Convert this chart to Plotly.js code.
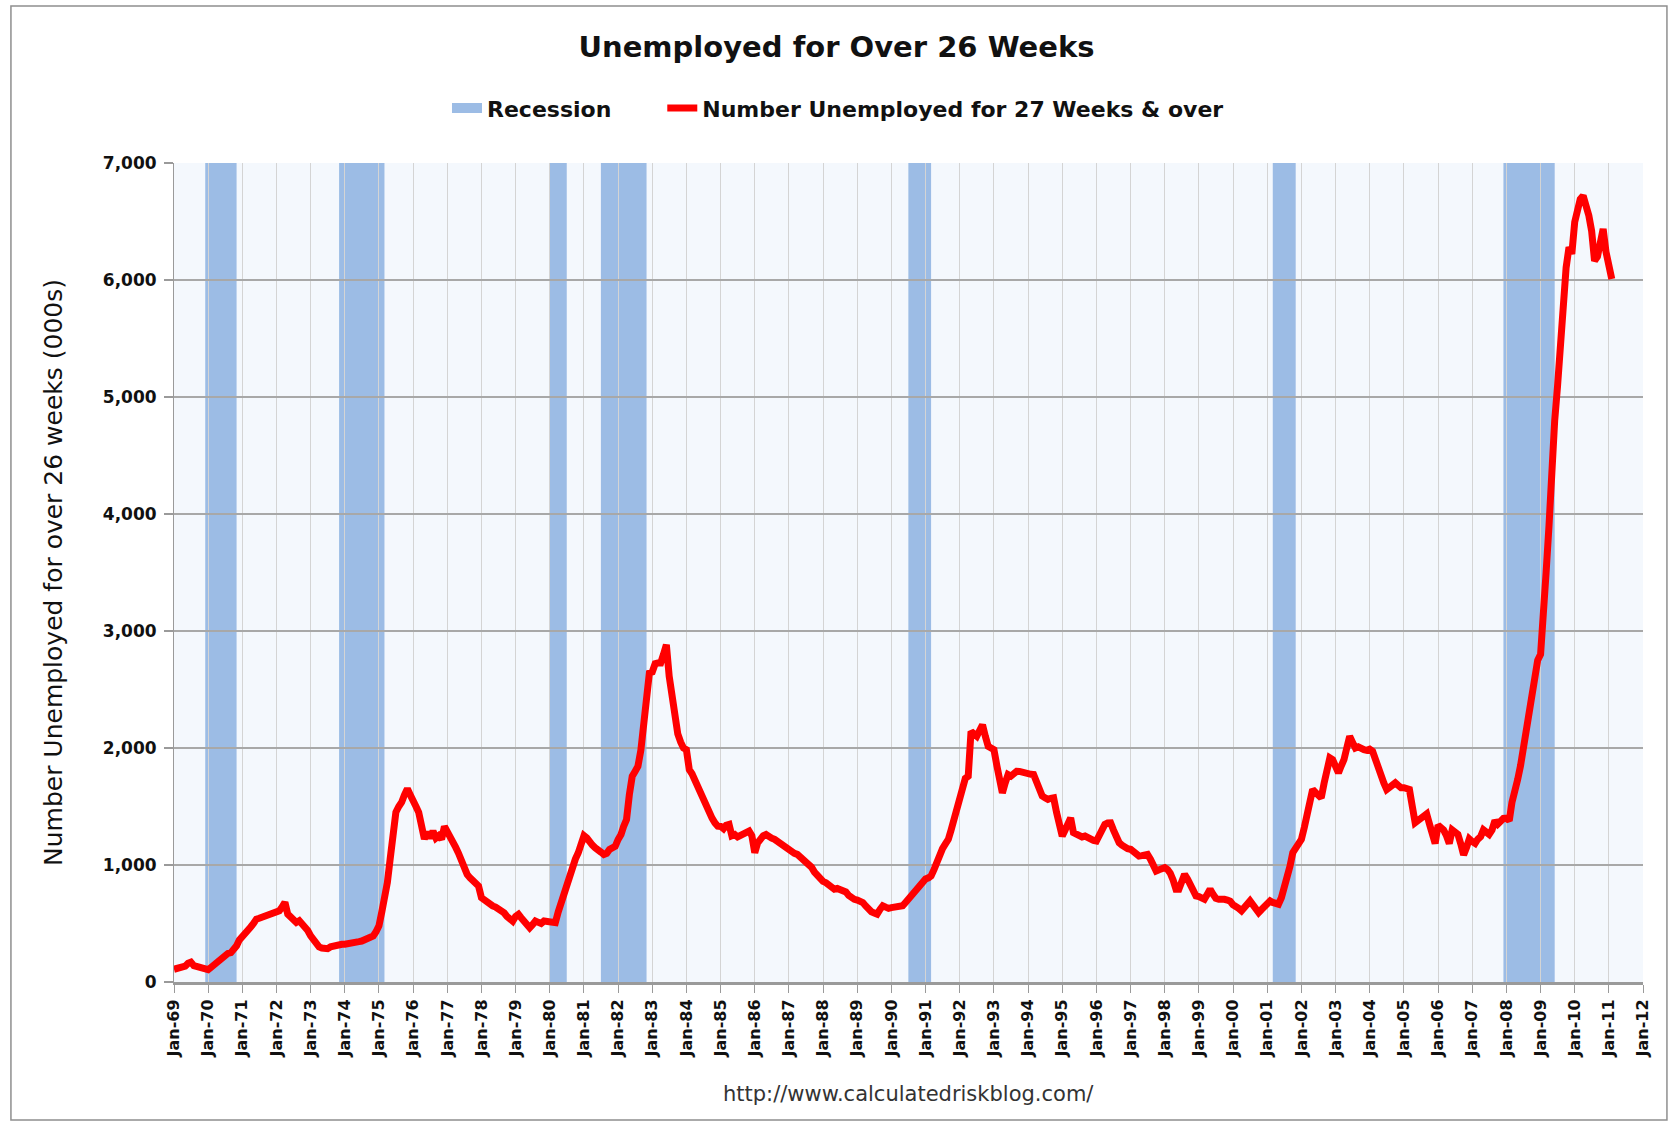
<!DOCTYPE html>
<html>
<head>
<meta charset="utf-8">
<script src="https://cdn.plot.ly/plotly-3.0.1.min.js"></script>
<style>
  html, body { margin:0; padding:0; background:#ffffff; }
  #chart { width:1673px; height:1125px; }
</style>
</head>
<body>
<div id="chart"></div>
<script>
// ---- Data -------------------------------------------------------------
const seriesStart = { year: 1969, month: 1 };   // first monthly observation (Jan-69)

// Number unemployed for 27 weeks & over (thousands), monthly, one row per year
const unemployed27wk = [
  /*1969*/ 109,115,125,120,135,160,170,140,135,130,125,115,
  /*1970*/ 105,125,145,165,190,220,237,245,251,275,309,360,
  /*1971*/ 394,420,437,470,500,537,545,555,566,570,575,580,
  /*1972*/ 590,609,640,680,580,560,530,509,523,500,480,440,
  /*1973*/ 394,360,323,300,290,280,285,300,309,315,320,322,
  /*1974*/ 323,325,330,337,340,345,350,358,366,375,394,430,
  /*1975*/ 480,600,709,850,1051,1250,1451,1500,1537,1600,1651,1600,
  /*1976*/ 1560,1500,1450,1330,1223,1280,1230,1290,1230,1250,1220,1330,
  /*1977*/ 1275,1250,1200,1150,1100,1040,960,920,890,870,850,820,
  /*1978*/ 720,700,680,665,650,640,625,610,590,560,530,520,
  /*1979*/ 560,578,550,521,500,464,490,521,510,500,521,515,
  /*1980*/ 510,500,507,600,677,780,848,920,990,1050,1104,1180,
  /*1981*/ 1250,1230,1190,1170,1147,1120,1110,1090,1100,1133,1140,1160,
  /*1982*/ 1218,1260,1330,1389,1600,1759,1800,1844,1980,2214,2400,2641,
  /*1983*/ 2650,2720,2726,2726,2800,2883,2613,2450,2250,2120,2050,2000,
  /*1984*/ 1986,1815,1780,1720,1680,1620,1560,1500,1446,1400,1360,1332,
  /*1985*/ 1330,1310,1340,1347,1250,1260,1240,1250,1260,1280,1290,1250,
  /*1986*/ 1105,1190,1230,1250,1261,1240,1230,1219,1200,1180,1162,1150,
  /*1987*/ 1140,1120,1100,1091,1070,1050,1030,1020,980,940,906,880,
  /*1988*/ 860,849,830,810,793,800,790,793,770,740,720,707,
  /*1989*/ 700,690,679,650,622,600,590,580,620,651,640,630,
  /*1990*/ 636,640,630,645,651,680,707,740,780,800,820,850,
  /*1991*/ 880,890,906,960,1030,1091,1140,1180,1219,1300,1400,1474,
  /*1992*/ 1600,1702,1740,1759,2142,2120,2100,2150,2199,2100,2014,2000,
  /*1993*/ 1986,1850,1720,1616,1700,1773,1760,1780,1801,1800,1790,1780,
  /*1994*/ 1780,1775,1773,1700,1620,1590,1574,1560,1570,1574,1450,1330,
  /*1995*/ 1247,1300,1350,1403,1276,1260,1250,1240,1247,1230,1220,1210,
  /*1996*/ 1205,1260,1320,1347,1360,1361,1300,1230,1190,1170,1150,1140,
  /*1997*/ 1134,1110,1090,1077,1080,1085,1091,1050,1000,949,960,970,
  /*1998*/ 977,960,930,870,793,793,850,920,880,820,770,736,
  /*1999*/ 730,715,707,750,793,750,715,707,710,707,700,690,
  /*2000*/ 660,651,630,608,640,670,693,660,620,594,620,650,
  /*2001*/ 680,693,680,670,665,720,793,880,990,1105,1150,1190,
  /*2002*/ 1219,1320,1430,1531,1645,1620,1590,1574,1700,1800,1915,1900,
  /*2003*/ 1850,1787,1844,1900,2000,2100,2050,2000,2010,1990,1986,1980,
  /*2004*/ 1990,1972,1900,1815,1750,1700,1645,1670,1690,1702,1680,1660,
  /*2005*/ 1660,1650,1645,1500,1361,1380,1400,1403,1437,1350,1250,1184,
  /*2006*/ 1340,1320,1300,1250,1184,1300,1280,1262,1180,1086,1150,1223,
  /*2007*/ 1200,1184,1220,1242,1300,1280,1262,1300,1379,1350,1380,1398,
  /*2008*/ 1400,1379,1535,1620,1730,1850,2004,2100,2238,2450,2629,2750,
  /*2009*/ 2800,3100,3500,3900,4400,4800,5090,5480,5832,6105,6281,6223,
  /*2010*/ 6496,6600,6691,6720,6652,6550,6418,6164,6200,6340,6437,6242,
  /*2011*/ 6100,6008
];

// NBER recessions (start / end)
const recessionStart = ['1969-12-01','1973-11-01','1980-01-01','1981-07-01','1990-07-01','2001-03-01','2007-12-01'];
const recessionEnd   = ['1970-11-01','1975-03-01','1980-07-01','1982-11-01','1991-03-01','2001-11-01','2009-06-01'];

const xRange = ['1969-01-01','2012-01-01'];
const yRange = [0, 7000];

const chartTitle = 'Unemployed for Over 26 Weeks';
const seriesName = 'Number Unemployed for 27 Weeks & over';
const recessionName = 'Recession';
const yTitle = 'Number Unemployed for over 26 weeks (000s)';
const sourceText = 'http://www.calculatedriskblog.com/';

// ---- Build ------------------------------------------------------------
const months = unemployed27wk.map((_, i) => {
  const m0 = seriesStart.month - 1 + i;
  const y = seriesStart.year + Math.floor(m0 / 12);
  const m = (m0 % 12) + 1;
  return y + '-' + String(m).padStart(2, '0') + '-01';
});

const recColor = '#9cbce5';
const boldFont = 'DejaVu Sans';

const traces = [
  {
    // legend entry for the recession bands (bands themselves are drawn as shapes below)
    type: 'scatter',
    mode: 'lines',
    name: recessionName + '\u00a0'.repeat(6),
    x: recessionStart,
    y: recessionStart.map(() => null),
    line: { color: recColor, width: 18 },
    hoverinfo: 'skip'
  },
  {
    type: 'scatter',
    mode: 'lines',
    name: seriesName,
    x: months,
    y: unemployed27wk,
    line: { color: '#ff0000', width: 7 }
  }
];

const shapes = recessionStart.map((s, i) => ({
  type: 'rect', xref: 'x', yref: 'paper',
  x0: s, x1: recessionEnd[i], y0: 0, y1: 1,
  fillcolor: recColor, line: { width: 0 }, layer: 'below'
}));
// outer frame of the chart
shapes.push({
  type: 'rect', xref: 'paper', yref: 'paper',
  x0: -0.111, x1: 1.0163, y0: -0.1685, y1: 1.1917,
  line: { color: '#8f8f8f', width: 1.5 }, fillcolor: 'rgba(0,0,0,0)', layer: 'above'
});

const layout = {
  width: 1673, height: 1125,
  margin: { l: 174, r: 30, t: 163, b: 143 },
  paper_bgcolor: '#ffffff',
  plot_bgcolor: '#f4f8fd',
  font: { family: boldFont, color: '#111111' },
  title: {
    text: chartTitle, x: 0.5, xanchor: 'center',
    y: 1 - 47 / 1125, yanchor: 'middle', yref: 'container',
    font: { family: boldFont, size: 29, weight: 700, color: '#111111' }
  },
  showlegend: true,
  legend: {
    orientation: 'h', x: 0.452, xanchor: 'center', y: 1.067, yanchor: 'middle',
    font: { family: boldFont, size: 22, weight: 700, color: '#111111' },
    bgcolor: 'rgba(0,0,0,0)', traceorder: 'normal', itemwidth: 30
  },
  xaxis: {
    type: 'date', range: xRange, tick0: '1969-01-01', dtick: 'M12',
    tickformat: '%b-%y', tickangle: -90,
    ticks: 'outside', ticklen: 8, tickcolor: '#9a9a9a', tickwidth: 1,
    showgrid: true, gridcolor: '#d4d4d4', gridwidth: 1,
    showline: true, linecolor: '#9a9a9a', linewidth: 3,
    zeroline: false,
    tickfont: { family: boldFont, size: 16, weight: 700, color: '#111111' }
  },
  yaxis: {
    range: yRange, dtick: 1000, tickformat: ',d',
    ticks: 'outside', ticklen: 9, tickcolor: '#9a9a9a', tickwidth: 2,
    showgrid: true, gridcolor: '#a8a8a8', gridwidth: 2,
    showline: true, linecolor: '#9a9a9a', linewidth: 1,
    zeroline: false,
    ticklabelstandoff: 4,
    tickfont: { family: boldFont, size: 17, weight: 700, color: '#111111' },
    title: { text: yTitle, standoff: 33, font: { family: 'DejaVu Sans', size: 25, color: '#111111' } }
  },
  shapes: shapes,
  annotations: [{
    text: sourceText, xref: 'paper', yref: 'paper', x: 0.5, y: -0.137,
    xanchor: 'center', yanchor: 'middle', showarrow: false,
    font: { family: 'DejaVu Sans', size: 21, color: '#333333' }
  }]
};

Plotly.newPlot('chart', traces, layout, { displayModeBar: false, staticPlot: true });
</script>
</body>
</html>
